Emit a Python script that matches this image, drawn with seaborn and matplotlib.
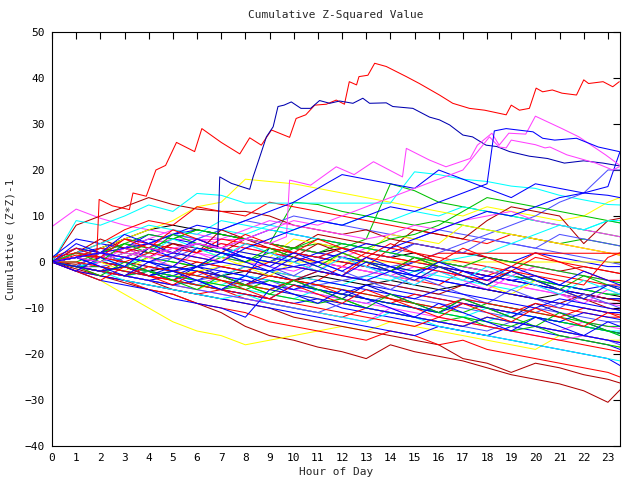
import pandas as pd
import matplotlib
matplotlib.use('Agg')
import matplotlib.pyplot as plt
import seaborn as sns

# hourly grid used by most of the series
hours = list(range(24)) + [23.5]

red_lines = [
    [0, -1, -2, 1, 0, -1, -2, -3, -1, -2, -3, -4, -1, -2, -3, -4, -5, -2, -3, -4, -5, -6, -7, -8, -8.5],
    [1, 3, 2, 5, 4, 3, 2, 4, 3, 2, 1, 0, -1, 2, 1, 0, -1, -2, -3, -1, -2, -3, -4, -5, -5],
    [0, -2, -3, -4, -5, -6, -7, -6, -8, -9, -10, -11, -12, -10, -11, -12, -13, -14, -12, -13, -14, -15, -16, -17, -17.5],
    [0, 2, 4, 7, 9, 8, 12, 11, 10, 13, 12, 11, 10, 9, 8, 7, 6, 5, 4, 6, 5, 4, 3, 2, 1.5],
    [0, -1, -3, -4, -6, -7, -9, -10, -11, -13, -14, -15, -16, -17, -15, -16, -18, -17, -19, -20, -21, -22, -23, -24, -25],
    [0, 1, 0, -1, 3, 2, 1, 0, 4, 3, 2, 1, 0, -1, 3, 2, 1, 0, -1, -2, 1, 0, -1, -2, -2.5],
    [0, -1, -2, -1, -3, -4, -2, -3, -5, -6, -4, -5, -7, -8, -9, -7, -8, -9, -10, -11, -9, -10, -11, -12, -12],
    [0, 1, 3, 2, 4, 3, 2, 5, 4, 3, 2, 1, 3, 2, 1, 0, 1.9, 1.9, 1.9, 1.9, 1.9, 1.9, 1.9, 1.9, 1.9],
    [0, -1, -2, -3, -1, -2, -3, -4, -5, -3, -4, -5, -6, -7, -8, -9, -10, -8, -9, -10, -11, -12, -10, -11, -11.5],
    [0, 0, -1, -2, -3, -4, -5, -6, -7, -8, -9, -10, -11, -12, -13, -14, -12, -13, -14, -15, -16, -17, -18, -19, -19.5],
    [1, 2, 1, 0, 2, 1, 0, -1, -2, 0, -1, -2, -3, 1, 0, -1, -2, -3, -4, -2, -3, -4, -5, 1, 2],
    [0, 3, 1, 5, 3, 7, 5, 3, 6, 4, 2, 5, 3, 1, 4, 2, 0, 3, 1, -1, 2, 0, -2, -4, -4],
    [0, -2, -4, -1, -3, -5, -2, -4, -6, -8, -5, -7, -9, -6, -8, -10, -12, -9, -11, -13, -10, -12, -14, -11, -12],
]
darkred_lines = [
    [0, -1.5, -3, -4.5, -6, -7, -9, -11, -14, -16, -17, -18.5, -19.5, -21, -18, -19.5, -20.5, -21.5, -23, -24.5, -25.5, -26.5, -28, -30.5, -27.8],
    [0, -1, -2, -3, -4, -6, -7, -8, -9, -10, -12, -13, -14, -15, -16, -17, -18, -21, -22, -24, -22, -23, -24.5, -25.5, -26.3],
    [0, 8, 10, 12, 14, 12.5, 11.5, 11, 11, 10, 8, 7, 6, 7, 5, 4, 3, 2, 1, 0, -1, -2, -1, -2, -2.5],
    [0, -0.5, 1, 0, -1, -2, 0, -1, -2, -3, -4, -2, -3, -4, -5, -6, -7, -5, -6, -7, -8, -9, -7, -8, -8.5],
    [0, 2, 1, 3, 2, 4, 3, 2, 5, 4, 3, 6, 5, 4, 3, 7, 6, 5, 9, 12, 11, 10, 4, 9, 9.5],
    [0, 2, 5, 3, 1, 4, 2, 7, 5, 3, 1, 4, 2, 0, -2, 1, -1, -3, -5, -2, -4, -6, -8, -10, -10.5],
]
green_lines = [
    [0, -1, 0, -1, 1, 0, -1, 2, 1, 0, 3, 4, 3, 5, 17, 15.5, 13, 12, 11, 10, 9, 8, 7, 6, 5.5],
    [0, 1, 2, 1, 3, 2, 4, 3, 5, 4, 13, 12.5, 11, 10, 9, 8, 9, 8, 7, 6, 5, 4, 5, 4, 3.5],
    [0, -1, -2, -3, -2, -4, -5, -6, -5, -7, -8, -9, -8, -10, -11, -12, -13, -12, -14, -15, -14, -16, -17, -18, -18.5],
    [0, 0, 2, 4, 3, 5, 7, 6, 5, 4, 3, 2, 1, 0, -1, -2, 0, -1, -2, -3, -4, -5, -6, -7, -7],
    [0, -1, -1, -2, -3, -2, -3, -4, -5, -6, -4, -5, -6, -7, -8, -9, -10, -11, -9, -10, -11, -12, -13, -14, -14],
    [0, 1, 0, 2, 1, 0, -1, 1, 0, 2, 3, 2, 4, 3, 5, 6, 8, 11, 14, 13, 12, 11, 10, 9, 8.5],
    [0, -1, -2, -1, -2, -3, -4, -5, -6, -4, -5, -6, -7, -8, -9, -10, -11, -12, -13, -14, -12, -13, -14, -15, -15.5],
    [0, 1, 2, 4, 6, 5, 7, 6, 5, 4, 3, 5, 4, 3, 2, 1, 0, -1, 1, 0, -1, -2, -3, -4, -4.5],
    [0, 2, 0, 4, 2, 6, 4, 2, 0, 3, 1, -1, 2, 0, -2, 1, -1, -3, -5, -2, -4, -6, -3, -5, -6],
    [0, -1, -3, 0, -2, -4, -6, -3, -5, -7, -4, -6, -8, -10, -7, -9, -11, -8, -10, -12, -14, -11, -13, -15, -16],
]
blue_lines = [
    [0, 2, 3, 5, 4, 6, 7, 6, 5, 7, 6, 5, 4, 3, 2, 4, 3, 2, 1, 0, 2, 1, 0, -1, -1],
    [0, -1, -2, -3, -4, -3, -5, -6, -7, -8, -9, -8, -10, -11, -12, -13, -14, -15, -16, -14, -15, -16, -17, -18, -19],
    [0, -1, 0, -1, -2, -3, -4, -2, -3, -4, -5, -6, -7, -5, -6, -7, -8, -9, -10, -11, -12, -13, -14, -15, -15.5],
    [0, 1, 0, -1, -2, -3, -1, -2, -3, 3, 2, 1, 0, -1, -2, -3, -4, -5, -3, -4, -5, -6, -7, -8, -8],
    [0, -2, -3, -4, -5, -6, -7, -8, -9, -10, -11, -12, -13, -14, -15, -16, -14, -15, -16, -17, -18, -19, -20, -21, -22.5],
    [1, 5, 4, 3, 6, 5, 4, 3, 2, 1, 0, 2, 1, 0, -1, -2, -1, -2, -3, -4, -3, -5, -6, -5, -5.5],
    [0, -1, -2, -3, -4, -5, -4, -6, -7, -8, -5, -6, -7, -8, -9, -10, -11, -9, -10, -11, -12, -13, -11, -12, -12.5],
    [0, 1, 2, 3, 4, 6, 8, 7, 9, 11, 13, 16, 19, 18, 17, 16, 20, 18, 16, 14, 17, 16, 15, 14.5, 14],
    [0, 1, -1, -2, -3, -1, -2, -3, -4, -5, -6, -4, -5, -6, -7, -8, -6, -7, -8, -9, -10, -8, -9, -10, -10.5],
    [0, -2, -4, -5, -6, -8, -9, -10, -12, -6, -7, -8, -9, -10, -11, -12, -13, -14, -12, -13, -14, -15, -16, -17, -17.5],
    [0, 3, 2, 1, 0, -1, 3, 2, 1, 0, -1, -2, -3, -4, -2, -3, -4, -5, -6, -7, -8, -9, -10, -11, -11],
    [0, -1, -2, -1, -3, -2, -1, 0, -1, -2, -1, 0, 2, 4, 3, 5, 7, 9, 11, 10, 12, 14, 15, 16.4, 24],
    [0, 4, 2, 6, 4, 2, 5, 3, 1, -1, 2, 0, -2, 1, -1, -3, 0, -2, -4, -1, -3, -5, -2, -4, -5],
    [0, -2, 1, -1, 3, 1, -1, 2, 0, -2, 1, -1, -3, 0, -2, -4, -1, -3, -5, -2, -4, -6, -8, -5, -6],
    [0, 1, -1, -3, 0, -2, -4, -6, -3, -5, -7, -9, -6, -8, -10, -12, -9, -11, -13, -15, -12, -14, -16, -13, -14],
]
cyan_lines = [
    [0, 1, 3, 2, 4, 6, 5, 7, 6, 8, 7, 9, 8, 10, 9, 11, 10, 12, 11, 10, 9, 8, 7, 9, 8.5],
    [0, -1, -2, -3, -2, -4, -5, -4, -6, -7, -8, -6, -7, -8, -9, -10, -11, -12, -13, -11, -12, -13, -14, -15, -15],
    [0, -1, 0, 1, 0, -1, -2, -3, -1, -2, -3, -4, -5, -3, -4, -2, -3, -4, -5, -6, -4, -5, -6, -7, -7],
    [0, 9, 8, 10, 12.4, 11, 14.9, 14.5, 12.8, 12.8, 12.8, 12.8, 12.8, 12.8, 12.8, 19.6, 19, 18, 17.5, 16.5, 16, 14.5, 13.5, 12.5, 12.4],
    [0, -1, -2, -4, -5, -6, -7, -8, -7, -9, -10, -11, -12, -13, -11, -12, -14, -15, -16, -17, -18, -19, -20, -21, -21.5],
    [0, -1, -2, -1, -2, -3, -4, -5, -3, -4, -5, -6, -7, -8, -9, -10, -11, -12, -10, -11, -12, -13, -14, -15, -16],
    [0, 2, 4, 6, 8, 7, 6, 9, 8, 7, 6, 5, 4, 3, 2, 1, 0, 1, 2, 4, 6, 8, 7, 9, 9],
    [0, 3, 1, -1, 2, 5, 3, 1, 4, 2, 0, -2, 1, -1, -3, -5, -2, -4, -1, -3, -5, -7, -4, -6, -7],
]
magenta_lines = [
    [7.7, 11.5, 9.5, 8, 7, 6, 5, 4, 3, 2, 1, 0, -1, -2, -3, -1, -2, -3, -4, -5, -6, -7, -8, -9, -9],
    [0, -1, -2, -1, -3, -4, -5, -3, -4, -5, -6, -7, -8, -9, -10, -12, -13, -14, -12, -13, -14, -15, -13, -14, -14.5],
    [0, 1, 0, 2, 1, 3, 2, 1, 0, -1, -2, 0, -1, -2, -3, -4, -2, -3, -4, -5, -6, -7, -8, -9, -9.5],
    [0, 1, 2, 3, 4, 4.9, 4.9, 4.9, 4.9, 4, 3, 2, 1, 3, 2, 1, 0, -1, -2, -3, -1, -2, -3, -4, -4],
    [0, -1, -2, -3, -4, -5, -6, -7, -8, -9, -10, -11, -12, -13, -10, -11, -12, -13, -14, -15, -16, -17, -16, -17, -17.5],
    [0, 2, 1, 3, 5, 7, 6, 5, 7, 9, 8, 7, 6, 5, 6, 8, 7, 9, 10, 11, 9, 8, 7, 6, 5.5],
    [0, -2, 0, 3, 1, -1, 2, 0, 4, 2, 0, -2, 1, -1, -3, -5, -2, -4, -6, -3, -5, -7, -9, -6, -7],
]
yellow_lines = [
    [0, -2, -4, -7, -10, -13, -15, -16, -18, -17, -16, -15, -14, -15, -13, -14, -15, -16, -17, -18, -19, -16, -17, -18, -18.5],
    [0, 1, 3, 5, 7, 9, 12, 13, 18, 17.5, 17, 16, 15, 14, 13, 12, 11, 10, 12, 11, 10, 9, 10, 13, 14],
    [0, -1, -2, -1, -2, -3, -2, -1, 0, 0, 0, 0, 0, 0, 0, 0, 0, 0, 0, 0, 0, 0, 0, 0, 0],
    [0, -1, -2, -3, -4, -5, -6, -4, -5, -6, -7, -8, -9, -10, -11, -12, -13, -14, -12, -13, -14, -15, -16, -17, -17],
    [0, 1, 2, 1, 3, 2, 4, 3, 2, 1, 5, 4, 3, 2, 6, 5, 4, 8, 7, 6, 5, 4, 3, 2, 1.5],
    [0, 2, 0, -2, 1, -1, 3, 1, -1, -3, 0, -2, 2, 0, -2, -4, -1, -3, -5, -7, -4, -6, -8, -5, -6],
]
black_lines = [
    [0, 1, 3, 5, 7, 8, 7, 6, 5, 4, 3, 2, 3, 2, 1, 2, 0, -1, -2, -3, -4, -5, -6, -7, -7.5],
    [0, -1, 0, -1, -2, -1, -2, -3, -2, -3, -4, -3, -4, -5, -4, -5, -6, -5, -6, -7, -8, -7, -8, -9, -9],
]
slate_lines = [
    [0, -1, -2, -3, -2, -4, -5, -6, -4, -5, -6, -7, -8, -9, -7, -8, -9, -10, -11, -12, -10, -11, -12, -13, -13],
    [0, 1, 3, 2, 4, 6, 5, 7, 9, 8, 10, 9, 8, 7, 6, 5, 7, 6, 5, 4, 3, 2, 1, 0, -0.5],
    [0, -1, -1, 0, -1, -2, -3, -1, -2, -3, -4, -2, -3, -4, -5, -6, -7, -8, -9, -10, -11, -9, -10, -11, -11],
    [0, -1, -2, -1, -3, -2, -4, -3, -5, -4, -6, -5, -4, -3, -1, 0, 2, 4, 6, 8, 10, 13, 15, 20, 20],
    [0, -1, -2, -3, -4, -5, -6, -7, -8, -9, -10, -11, -9, -10, -11, -12, -13, -14, -15, -13, -14, -15, -16, -17, -18],
    [0, 1, 2, 1, 0, 1, 3, 2, 1, 0, 2, 1, 3, 2, 1, 4, 3, 2, 5, 4, 3, 6, 5, 4, 3.5],
    [0, -1, 2, 0, -2, 1, 5, 3, 1, -1, -3, 0, -2, -4, -6, -3, -5, -7, -9, -6, -8, -10, -7, -9, -10],
]
navy_lines = [
    [0, 2, 1, 3, 5, 4, 3, 2, 1, 0, 2, 1, 0, -1, -2, 0, -1, -2, -3, -4, -5, -6, -7, -8, -8],
    [0, -1, 2, 0, -2, -4, -1, -3, -5, -2, -4, -6, -8, -5, -7, -9, -11, -8, -10, -12, -9, -11, -13, -15, -15.5],
]

# the few lines that climb far above the rest
top_red_hours = [0, 1, 1.85, 1.95, 2.5, 3.2, 3.35, 3.9, 4.3, 4.7, 5.15, 5.9, 6.2, 7.0, 7.77, 8.18, 8.66,
                 9.08, 9.83, 10.1, 10.5, 10.87, 11.35, 11.76, 12.1, 12.3, 12.6, 12.7, 13.07, 13.35, 13.83,
                 14.66, 15.2, 16.03, 16.58, 17.27, 17.9, 18.79, 19.0, 19.34, 19.75, 20.03, 20.3, 20.7,
                 21.1, 21.7, 22.0, 22.2, 22.8, 23.2, 23.47]
top_red_values = [0, 1.5, 1, 13.6, 12.2, 11.4, 15, 14.3, 20, 21, 26, 24, 29, 26, 23.5, 27, 25.4,
                  28.7, 27.1, 31.2, 32, 34.1, 34.3, 35.2, 34.3, 39.2, 38.5, 40.3, 40.6, 43.2, 42.5,
                  40.3, 38.8, 36.3, 34.5, 33.4, 33, 32, 34.1, 33, 33.4, 37.8, 37, 37.4,
                  36.7, 36.3, 39.6, 38.8, 39.2, 38.1, 39.2]

top_navy_hours = [0, 1, 2, 3, 4, 5, 6, 6.85, 6.94, 7.42, 8.18, 8.32, 8.6, 8.87, 9.15, 9.35, 9.6, 9.9,
                  10.3, 10.7, 11.07, 11.49, 11.9, 12.45, 12.86, 13.14, 13.83, 14.1, 14.93, 15.62, 16.03,
                  16.45, 17.0, 17.4, 17.96, 18.4, 18.93, 19.75, 20.5, 21.2, 22.0, 22.8, 23.47]
top_navy_values = [0, 1, 2, 1, 3, 2, 4, 3, 18.5, 17.1, 15.8, 18.5, 22.9, 27.2, 29.4, 33.8, 34.1, 34.8,
                   33.4, 33.4, 35.1, 34.5, 35, 34.5, 35.6, 34.5, 34.6, 33.8, 33.4, 31.5, 30.9,
                   29.8, 27.6, 27.2, 25.4, 25.1, 24, 23, 22.5, 21.5, 22, 21.5, 20.9]

top_magenta_hours = [0, 1, 2, 3, 4, 5, 6, 7, 8, 9, 9.7, 9.83, 10.7, 11.76, 12.5, 13.3, 14.5, 14.66,
                     15.6, 16.3, 17.3, 17.6, 18.2, 18.5, 18.9, 19.6, 20.0, 21.1, 21.8, 22.9, 23.47]
top_magenta_values = [0, 1, 2, 1, 3, 2, 4, 3, 5, 4, 5.5, 17.8, 16.7, 20.7, 19, 21.8, 18.5, 24.7,
                      22.2, 20.7, 22.5, 25.4, 28, 25.4, 28, 27.8, 31.7, 29, 27.2, 23.3, 21.1]

second_magenta_hours = list(range(18)) + [18.1, 18.5, 18.79, 19.0, 20.0, 20.4, 20.6, 21.3, 22.5, 23.2, 23.47]
second_magenta_values = [0, 1, 0, 2, 1, 3, 4, 3, 5, 7, 9, 8, 10, 12, 14, 16, 18, 20,
                         27.2, 25, 24.8, 26.5, 25.5, 24.8, 25, 23.3, 21.5, 20, 20.7]

second_blue_hours = list(range(19)) + [18.3, 18.79, 19.9, 20.3, 20.8, 21.7, 22.6, 23.47]
second_blue_hours = sorted(set(second_blue_hours))
second_blue_values = [0, 1, 2, 1, 0, 2, 1, 0, 3, 5, 7, 9, 8, 10, 12, 11, 13, 15, 17,
                      28.5, 29, 28.3, 26.9, 26.5, 26.9, 25, 24]

palette = {
    'red': '#ff0000', 'darkred': '#b00000', 'green': '#00c000', 'blue': '#0000ff',
    'cyan': '#00ffff', 'magenta': '#ff40ff', 'yellow': '#ffff00', 'black': '#000000',
    'slate': '#5050ff', 'navy': '#0000b0',
}

groups = [('red', red_lines), ('green', green_lines), ('blue', blue_lines), ('magenta', magenta_lines),
          ('cyan', cyan_lines), ('darkred', darkred_lines), ('yellow', yellow_lines),
          ('black', black_lines), ('slate', slate_lines), ('navy', navy_lines)]

rows = []
series_colors = {}
longest = max(len(g[1]) for g in groups)
for i in range(longest):
    for name, lines in groups:
        if i < len(lines):
            sid = f'{name}_{i}'
            series_colors[sid] = palette[name]
            for h, v in zip(hours, lines[i]):
                rows.append((sid, h, v))

extra = [('top_red', 'red', top_red_hours, top_red_values),
         ('top_navy', 'navy', top_navy_hours, top_navy_values),
         ('top_magenta', 'magenta', top_magenta_hours, top_magenta_values),
         ('second_magenta', 'magenta', second_magenta_hours, second_magenta_values),
         ('second_blue', 'blue', second_blue_hours, second_blue_values)]
for sid, name, xs, ys in extra:
    series_colors[sid] = palette[name]
    for h, v in zip(xs, ys):
        rows.append((sid, h, v))

df = pd.DataFrame(rows, columns=['series', 'hour', 'value'])

sns.set_style('white')
plt.rcParams['font.family'] = ['DejaVu Sans Mono']

fig = plt.figure(figsize=(6.4, 4.8), dpi=100)
ax = fig.add_axes([52 / 640, 34 / 480, 568 / 640, 414 / 480])

sns.lineplot(data=df, x='hour', y='value', hue='series', units='series', estimator=None,
             palette=series_colors, hue_order=list(series_colors.keys()),
             legend=False, linewidth=0.75, ax=ax)

ax.set_xlim(0, 23.5)
ax.set_ylim(-40, 50)
ax.set_xticks(range(24))
ax.set_yticks(range(-40, 51, 10))
ax.tick_params(direction='in', top=True, right=True, length=5, width=0.8,
               labelsize=8, pad=5, colors='black')
for sp in ax.spines.values():
    sp.set_color('black')
    sp.set_linewidth(0.8)

ax.set_xlabel('Hour of Day', fontsize=8, labelpad=3)
ax.set_ylabel('Cumulative (Z*Z)-1', fontsize=8, labelpad=7)
fig.text(336 / 640, 1 - 15 / 480, 'Cumulative Z-Squared Value', ha='center', va='center', fontsize=8)

fig.savefig('out.png', dpi=100)
